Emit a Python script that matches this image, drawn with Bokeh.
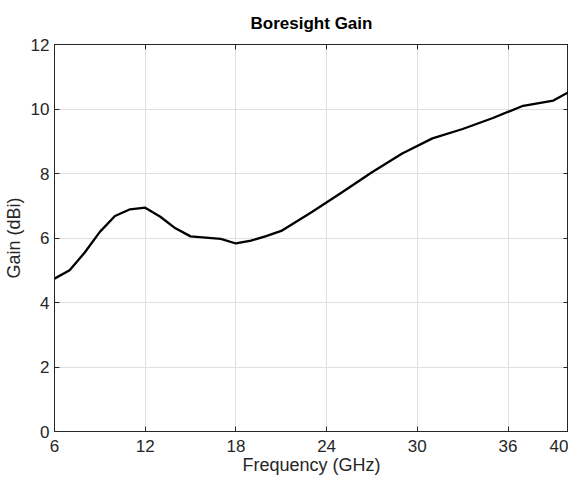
from bokeh.plotting import figure
from bokeh.models import LinearAxis, FixedTicker, Range1d
from bokeh.embed import file_html
from bokeh.resources import INLINE

# Data
freq_ghz = [6, 7, 8, 9, 10, 11, 12, 13, 14, 15, 16, 17, 18, 19, 20, 21,
            23, 25, 27, 29, 31, 33, 35, 37, 39, 40]
gain_dbi = [4.74, 5.00, 5.55, 6.19, 6.68, 6.89, 6.94, 6.66, 6.30, 6.05, 6.01, 5.97, 5.83, 5.92, 6.06, 6.22,
            6.80, 7.41, 8.04, 8.62, 9.09, 9.38, 9.72, 10.10, 10.26, 10.52]

x_ticks = [6, 12, 18, 24, 30, 36, 40]
y_ticks = [0, 2, 4, 6, 8, 10, 12]

FONT = "Liberation Sans"
AX = "#262626"

p = figure(width=568, height=477, output_backend="svg", toolbar_location=None,
           x_range=Range1d(6, 40), y_range=Range1d(0, 12),
           min_border_left=44, min_border_right=0, min_border_top=44, min_border_bottom=30,
           title="Boresight Gain")
p.background_fill_color = "white"
p.border_fill_color = "white"
p.outline_line_color = AX
p.outline_line_width = 1

p.title.text_font = FONT
p.title.text_font_size = "17px"
p.title.text_font_style = "bold"
p.title.text_color = "black"
p.title.align = "center"
p.title.vertical_align = "top"
p.title.standoff = 20

p.line(freq_ghz, gain_dbi, line_color="black", line_width=2.3)

def style(ax, labels=True):
    ax.axis_line_color = AX
    ax.axis_line_width = 1
    ax.major_tick_line_color = AX
    ax.major_tick_in = 5
    ax.major_tick_out = 0
    ax.minor_tick_line_color = None
    ax.major_label_text_font = FONT
    ax.major_label_text_color = AX
    if labels:
        ax.major_label_text_font_size = "17px"
        ax.axis_label_text_font = FONT
        ax.axis_label_text_font_size = "18px"
        ax.axis_label_text_font_style = "normal"
        ax.axis_label_text_color = AX
    else:
        ax.major_label_text_font_size = "1px"
        ax.major_label_overrides = {t: "" for t in ax.ticker.ticks}
        ax.major_label_standoff = 0

xa = p.xaxis[0]
xa.ticker = FixedTicker(ticks=x_ticks)
xa.axis_label = "Frequency (GHz)"
xa.major_label_standoff = 8
xa.axis_label_standoff = 0
style(xa)

ya = p.yaxis[0]
ya.ticker = FixedTicker(ticks=y_ticks)
ya.axis_label = "Gain (dBi)"
ya.major_label_standoff = 5
ya.axis_label_standoff = 4
style(ya)

top = LinearAxis(ticker=FixedTicker(ticks=x_ticks))
style(top, labels=False)
p.add_layout(top, "above")
right = LinearAxis(ticker=FixedTicker(ticks=y_ticks))
style(right, labels=False)
p.add_layout(right, "right")

p.xgrid.ticker = FixedTicker(ticks=x_ticks)
p.ygrid.ticker = FixedTicker(ticks=y_ticks)
for g in (p.xgrid[0], p.ygrid[0]):
    g.grid_line_color = "#dfdfdf"
    g.grid_line_width = 1

open("out.html", "w").write(file_html(p, INLINE))
